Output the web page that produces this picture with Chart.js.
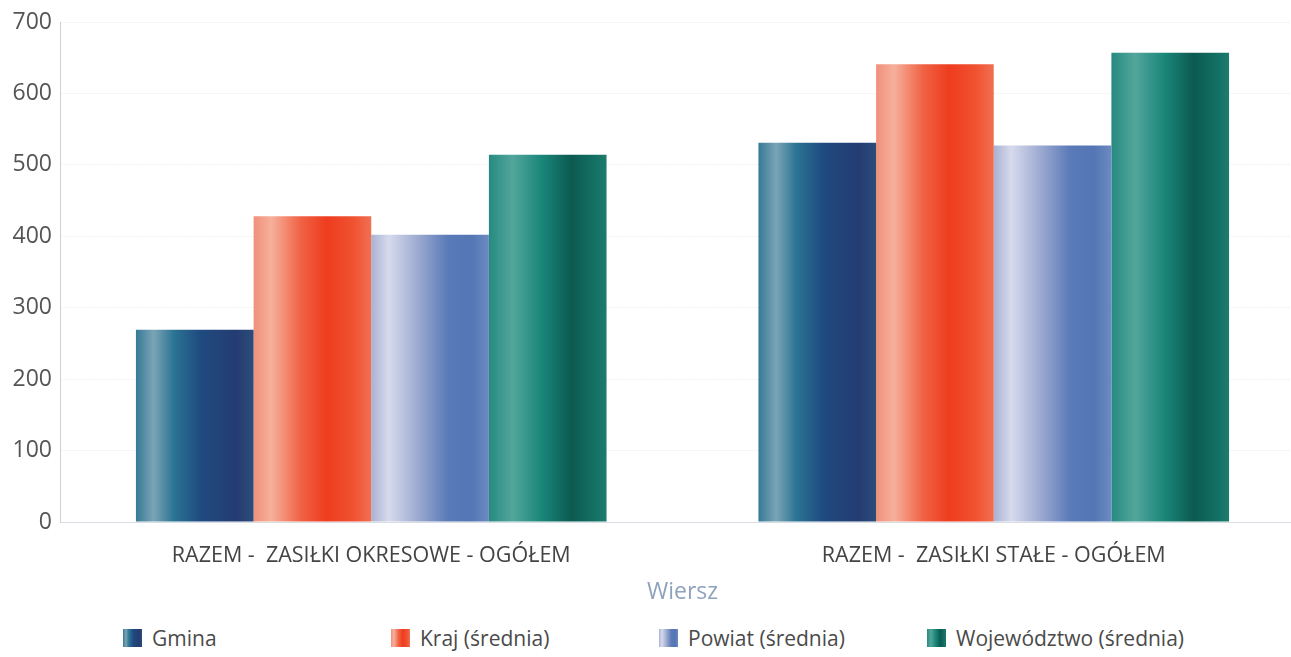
<!DOCTYPE html>
<html lang="pl">
<head>
<meta charset="UTF-8">
<script src="https://cdn.jsdelivr.net/npm/chart.js"></script>
<title>Zasiłki</title>
<style>
    body { margin: 0; background: #fff; overflow: hidden; font-family: "Open Sans", sans-serif; }
    .wykres { position: absolute; left: 0; top: 0; }
    .legenda { position: absolute; left: 123px; top: 624px; display: flex; }
    .legenda div { width: 268px; display: flex; align-items: center; font-size: 21px; color: #4a4a4a; }
    .legenda span { display: inline-block; width: 19px; height: 18px; margin-right: 10px; }
</style>
</head>
<body>
<div class="wykres">
    <canvas id="myChart" width="1305" height="615"></canvas>
</div>
<div class="legenda" id="legenda"></div>

<script>
    const kategorie = ['RAZEM -  ZASIŁKI OKRESOWE - OGÓŁEM', 'RAZEM -  ZASIŁKI STAŁE - OGÓŁEM'];
    const serie = ['Gmina', 'Kraj (średnia)', 'Powiat (średnia)', 'Województwo (średnia)'];
    const gmina = [269, 531];
    const kraj = [428, 641];
    const powiat = [402, 527];
    const wojewodztwo = [514, 657];
    const osY = [0, 100, 200, 300, 400, 500, 600, 700];

    // kolory "walców" - stopnie gradientu od lewej do prawej
    const kolory = [
        [[0, '#367a96'], [0.15, '#7ba4b6'], [0.32, '#2c7494'], [0.55, '#1f4a80'], [0.85, '#243c72'], [1, '#2c4c7a']],
        [[0, '#f0907a'], [0.15, '#f6b09c'], [0.4, '#f06244'], [0.62, '#ee3c1e'], [0.85, '#f05232'], [1, '#f07052']],
        [[0, '#aab2d2'], [0.15, '#d6daec'], [0.4, '#9ca9d0'], [0.65, '#5a7ab8'], [0.85, '#5476b4'], [1, '#6c8ac2']],
        [[0, '#268a80'], [0.2, '#52a69c'], [0.45, '#1a867a'], [0.7, '#0c5a50'], [0.9, '#137064'], [1, '#1e7c6e']]
    ];
    const legendaKolor = ['#3f7894', '#f0907a', '#a8b4d4', '#2a8a80'];
    const szerokoscGrupy = 0.756;

    function gradient(nr) {
        return function (ctx) {
            const chart = ctx.chart;
            const x = chart.scales.x;
            if (!x || ctx.dataIndex === undefined) return legendaKolor[nr];
            const kat = x.width / kategorie.length;
            const grupa = kat * szerokoscGrupy;
            const slupek = grupa / serie.length;
            const lewo = x.getPixelForValue(ctx.dataIndex) - grupa / 2 + nr * slupek;
            if (!isFinite(lewo) || !isFinite(slupek) || slupek <= 0) return legendaKolor[nr];
            const g = chart.ctx.createLinearGradient(lewo, 0, lewo + slupek, 0);
            kolory[nr].forEach(s => g.addColorStop(s[0], s[1]));
            return g;
        };
    }

    const wartosci = [gmina, kraj, powiat, wojewodztwo];

    const data = {
        labels: kategorie,
        datasets: serie.map((nazwa, i) => ({
            label: nazwa,
            data: wartosci[i],
            backgroundColor: gradient(i),
            borderWidth: 0,
            barPercentage: 1,
            categoryPercentage: szerokoscGrupy
        }))
    };

    const config = {
        type: 'bar',
        data: data,
        options: {
            responsive: false,
            animation: false,
            layout: { padding: { top: 22, right: 0, bottom: 0, left: 0 } },
            plugins: {
                legend: { display: false },
                tooltip: { enabled: false }
            },
            scales: {
                x: {
                    grid: { display: false },
                    border: { color: '#d8dde3', width: 1 },
                    ticks: { color: '#444', font: { family: 'Open Sans', size: 21.5 }, padding: 13 },
                    title: {
                        display: true,
                        text: 'Wiersz',
                        color: '#8fa2bd',
                        font: { family: 'Open Sans', size: 23 },
                        padding: { top: 0, bottom: 9 }
                    },
                    afterFit: function (s) { s.height = 93; }
                },
                y: {
                    min: 0,
                    max: 700,
                    afterBuildTicks: function (s) { s.ticks = osY.map(v => ({ value: v })); },
                    grid: { color: '#f0f1f3', drawTicks: false },
                    border: { color: '#c9d2dc', width: 1, dash: [2, 1] },
                    ticks: { color: '#555', font: { family: 'Open Sans', size: 23 }, padding: 8 },
                    afterFit: function (s) { s.width = 60; }
                }
            }
        }
    };

    const myChart = new Chart(document.getElementById('myChart'), config);

    const legenda = document.getElementById('legenda');
    serie.forEach(function (nazwa, i) {
        const el = document.createElement('div');
        const box = document.createElement('span');
        box.style.background = 'linear-gradient(90deg, ' + kolory[i].map(s => s[1] + ' ' + (s[0] * 100) + '%').join(', ') + ')';
        el.appendChild(box);
        el.appendChild(document.createTextNode(nazwa));
        legenda.appendChild(el);
    });
</script>
</body>
</html>
